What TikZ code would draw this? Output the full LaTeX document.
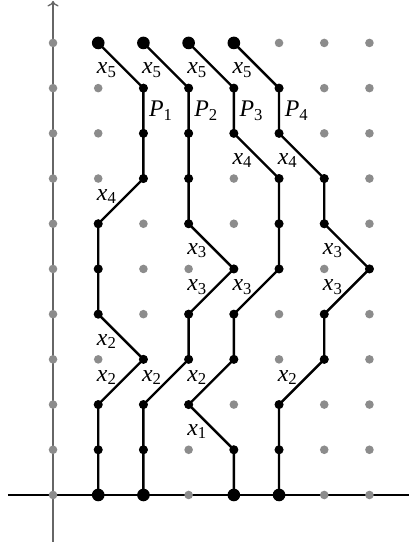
\documentclass[tikz,border=0pt]{standalone}
\usepackage{fontspec}
\setmainfont{Liberation Serif}
\usetikzlibrary{arrows.meta}
\newcommand{\lx}[1]{\textit{x}\textsubscript{#1}}
\newcommand{\lp}[1]{\textit{P}\textsubscript{#1}}
\tikzset{
  griddot/.style={fill=black!45},
  pathline/.style={line width=1.5pt, black},
  lbl/.style={inner sep=0pt, font=\fontsize{15}{17}\selectfont},
  dnlab/.style={xshift=-0.31cm, yshift=-0.1cm},
  uplab/.style={xshift=-0.31cm, yshift=0.1cm},
  plab/.style={inner sep=0pt, anchor=west, xshift=0.12cm, font=\fontsize{15}{17}\selectfont},
}
\begin{document}
\begin{tikzpicture}
\useasboundingbox (-1.173,-1.173) rectangle (7.876,10.95);
% grid coordinates
\foreach \i in {0,...,7} {
  \foreach \j in {0,...,10} {
    \coordinate (g-\i-\j) at (\i,\j);
  }
}
\coordinate (hl) at (-1.0,0);
\coordinate (hr) at (7.876,0);
\coordinate (vb) at (0,-1.03);
\coordinate (vt) at (0,10.93);
% axes
\draw[line width=0.8pt, black] (hl) -- (hr);
\draw[line width=0.8pt, black!60, -{To[length=3.5pt,width=7pt]}] (vb) -- (vt);
% gray dots
\foreach \i in {0,...,7} {
  \foreach \j in {0,...,10} {
    \fill[griddot] (g-\i-\j) circle (0.095);
  }
}
% path P1
\draw[pathline] (g-1-10) -- (g-2-9) -- (g-2-8) -- (g-2-7) -- (g-1-6) -- (g-1-5) -- (g-1-4) -- (g-2-3) -- (g-1-2) -- (g-1-1) -- (g-1-0);
% path P2
\draw[pathline] (g-2-10) -- (g-3-9) -- (g-3-8) -- (g-3-7) -- (g-3-6) -- (g-4-5) -- (g-3-4) -- (g-3-3) -- (g-2-2) -- (g-2-1) -- (g-2-0);
% path P3
\draw[pathline] (g-3-10) -- (g-4-9) -- (g-4-8) -- (g-5-7) -- (g-5-6) -- (g-5-5) -- (g-4-4) -- (g-4-3) -- (g-3-2) -- (g-4-1) -- (g-4-0);
% path P4
\draw[pathline] (g-4-10) -- (g-5-9) -- (g-5-8) -- (g-6-7) -- (g-6-6) -- (g-7-5) -- (g-6-4) -- (g-6-3) -- (g-5-2) -- (g-5-1) -- (g-5-0);
% labels P1
\path (g-1-10) -- node[lbl, dnlab] {\lx{5}} (g-2-9);
\path (g-2-7) -- node[lbl, uplab] {\lx{4}} (g-1-6);
\path (g-1-4) -- node[lbl, dnlab] {\lx{2}} (g-2-3);
\path (g-2-3) -- node[lbl, uplab] {\lx{2}} (g-1-2);
\path (g-2-9) -- node[plab] {\lp{1}} (g-2-8);
% labels P2
\path (g-2-10) -- node[lbl, dnlab] {\lx{5}} (g-3-9);
\path (g-3-6) -- node[lbl, dnlab] {\lx{3}} (g-4-5);
\path (g-4-5) -- node[lbl, uplab] {\lx{3}} (g-3-4);
\path (g-3-3) -- node[lbl, uplab] {\lx{2}} (g-2-2);
\path (g-3-9) -- node[plab] {\lp{2}} (g-3-8);
% labels P3
\path (g-3-10) -- node[lbl, dnlab] {\lx{5}} (g-4-9);
\path (g-4-8) -- node[lbl, dnlab] {\lx{4}} (g-5-7);
\path (g-5-5) -- node[lbl, uplab] {\lx{3}} (g-4-4);
\path (g-4-3) -- node[lbl, uplab] {\lx{2}} (g-3-2);
\path (g-3-2) -- node[lbl, dnlab] {\lx{1}} (g-4-1);
\path (g-4-9) -- node[plab] {\lp{3}} (g-4-8);
% labels P4
\path (g-4-10) -- node[lbl, dnlab] {\lx{5}} (g-5-9);
\path (g-5-8) -- node[lbl, dnlab] {\lx{4}} (g-6-7);
\path (g-6-6) -- node[lbl, dnlab] {\lx{3}} (g-7-5);
\path (g-7-5) -- node[lbl, uplab] {\lx{3}} (g-6-4);
\path (g-6-3) -- node[lbl, uplab] {\lx{2}} (g-5-2);
\path (g-5-9) -- node[plab] {\lp{4}} (g-5-8);
% small black dots
\foreach \p in {2-9,2-8,2-7,1-6,1-5,1-4,2-3,1-2,1-1,
                3-9,3-8,3-7,3-6,4-5,3-4,3-3,2-2,2-1,
                4-9,4-8,5-7,5-6,5-5,4-4,4-3,3-2,4-1,
                5-9,5-8,6-7,6-6,7-5,6-4,6-3,5-2,5-1} {
  \fill[black] (g-\p) circle (0.1);
}
% big black dots (ends)
\foreach \p in {1-10,2-10,3-10,4-10,1-0,2-0,4-0,5-0} {
  \fill[black] (g-\p) circle (0.14);
}
\end{tikzpicture}
\end{document}
